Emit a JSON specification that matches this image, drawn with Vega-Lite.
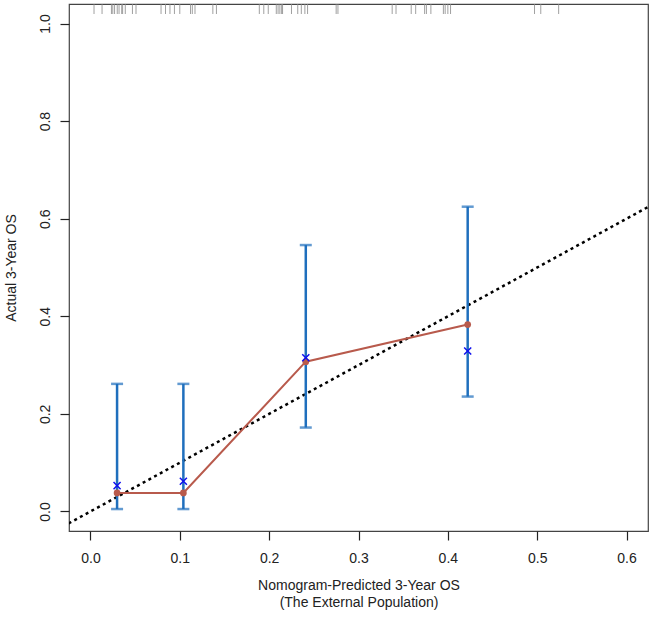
{
  "$schema": "https://vega.github.io/schema/vega-lite/v6.json",
  "width": 579,
  "height": 527,
  "autosize": {"type": "none"},
  "padding": {"left": 69, "top": 4, "right": 4, "bottom": 88},
  "background": "white",
  "config": {
    "view": {"stroke": "#444", "strokeWidth": 1.2},
    "font": "Liberation Sans",
    "axis": {"grid": false, "domain": false, "tickColor": "#222", "tickSize": 9, "tickWidth": 1.2,
             "labelFont": "Liberation Sans", "labelFontSize": 14, "labelColor": "#222",
             "titleFont": "Liberation Sans", "titleFontSize": 14, "titleFontWeight": "normal", "titleColor": "#222"}
  },
  "datasets": {
    "groups": [
      {"pred": 0.0298, "obs": 0.038, "corr": 0.053, "lo": 0.005, "hi": 0.2615},
      {"pred": 0.104, "obs": 0.038, "corr": 0.062, "lo": 0.005, "hi": 0.2615},
      {"pred": 0.241, "obs": 0.307, "corr": 0.315, "lo": 0.172, "hi": 0.546},
      {"pred": 0.4222, "obs": 0.383, "corr": 0.329, "lo": 0.2355, "hi": 0.6246}
    ],
    "ideal": [{"v": -0.05}, {"v": 0.7}],
    "rug": [
      {"p": 0.004}, {"p": 0.013}, {"p": 0.0235}, {"p": 0.025}, {"p": 0.027}, {"p": 0.030}, {"p": 0.032},
      {"p": 0.035}, {"p": 0.036}, {"p": 0.039}, {"p": 0.047}, {"p": 0.051}, {"p": 0.079}, {"p": 0.084},
      {"p": 0.089}, {"p": 0.094}, {"p": 0.100}, {"p": 0.112}, {"p": 0.114}, {"p": 0.117}, {"p": 0.137},
      {"p": 0.141}, {"p": 0.189}, {"p": 0.194}, {"p": 0.199}, {"p": 0.208}, {"p": 0.210}, {"p": 0.212},
      {"p": 0.214}, {"p": 0.215}, {"p": 0.225}, {"p": 0.232}, {"p": 0.236}, {"p": 0.240}, {"p": 0.243},
      {"p": 0.275}, {"p": 0.277}, {"p": 0.3377}, {"p": 0.342}, {"p": 0.359}, {"p": 0.364}, {"p": 0.374},
      {"p": 0.376}, {"p": 0.381}, {"p": 0.395}, {"p": 0.397}, {"p": 0.400}, {"p": 0.403}, {"p": 0.497},
      {"p": 0.504}, {"p": 0.524}
    ]
  },
  "layer": [
    {
      "data": {"name": "rug"},
      "mark": {"type": "rule", "color": "#888", "strokeWidth": 1, "opacity": 0.8},
      "encoding": {
        "x": {"field": "p", "type": "quantitative",
              "scale": {"domain": [-0.024, 0.624], "nice": false, "zero": false},
              "axis": {"values": [0, 0.1, 0.2, 0.3, 0.4, 0.5, 0.6], "format": ".1f",
                       "labelPadding": 22, "labelBaseline": "alphabetic",
                       "title": ["Nomogram-Predicted 3-Year OS", "(The External Population)"],
                       "titleBaseline": "alphabetic", "titleLineHeight": 17, "titleY": 58, "titleX": 289.5, "titleAnchor": "middle"}},
        "y": {"datum": 1.04, "type": "quantitative",
              "scale": {"domain": [-0.04, 1.04], "nice": false, "zero": false},
              "axis": {"values": [0, 0.2, 0.4, 0.6, 0.8, 1.0], "format": ".1f",
                       "labelAngle": -90, "labelAlign": "center", "labelBaseline": "alphabetic", "labelPadding": 11,
                       "title": "Actual 3-Year OS", "titleAngle": -90, "titleAlign": "center", "titleBaseline": "alphabetic",
                       "titleX": -54, "titleY": 263.5}},
        "y2": {"datum": 1.0195}
      }
    },
    {
      "data": {"name": "ideal"},
      "mark": {"type": "line", "color": "#000", "strokeWidth": 2.5, "strokeDash": [3, 3.5], "clip": true},
      "encoding": {
        "x": {"field": "v", "type": "quantitative"},
        "y": {"field": "v", "type": "quantitative"}
      }
    },
    {
      "data": {"name": "groups"},
      "mark": {"type": "rule", "color": "#1f6fbd", "strokeWidth": 2.5},
      "encoding": {
        "x": {"field": "pred", "type": "quantitative"},
        "y": {"field": "lo", "type": "quantitative"},
        "y2": {"field": "hi"}
      }
    },
    {
      "data": {"name": "groups"},
      "mark": {"type": "tick", "orient": "horizontal", "color": "#1f6fbd", "thickness": 2.5, "size": 12},
      "encoding": {
        "x": {"field": "pred", "type": "quantitative"},
        "y": {"field": "lo", "type": "quantitative"}
      }
    },
    {
      "data": {"name": "groups"},
      "mark": {"type": "tick", "orient": "horizontal", "color": "#1f6fbd", "thickness": 2.5, "size": 12},
      "encoding": {
        "x": {"field": "pred", "type": "quantitative"},
        "y": {"field": "hi", "type": "quantitative"}
      }
    },
    {
      "data": {"name": "groups"},
      "mark": {"type": "line", "color": "#b85a4c", "strokeWidth": 2},
      "encoding": {
        "x": {"field": "pred", "type": "quantitative"},
        "y": {"field": "obs", "type": "quantitative"}
      }
    },
    {
      "data": {"name": "groups"},
      "mark": {"type": "point", "shape": "circle", "filled": true, "color": "#b85a4c", "size": 45, "opacity": 1},
      "encoding": {
        "x": {"field": "pred", "type": "quantitative"},
        "y": {"field": "obs", "type": "quantitative"}
      }
    },
    {
      "data": {"name": "groups"},
      "mark": {"type": "point", "shape": "M-1,-1L1,1M-1,1L1,-1", "filled": false, "color": "#1010ee", "strokeWidth": 1.5, "size": 50, "opacity": 1},
      "encoding": {
        "x": {"field": "pred", "type": "quantitative"},
        "y": {"field": "corr", "type": "quantitative"}
      }
    }
  ]
}
